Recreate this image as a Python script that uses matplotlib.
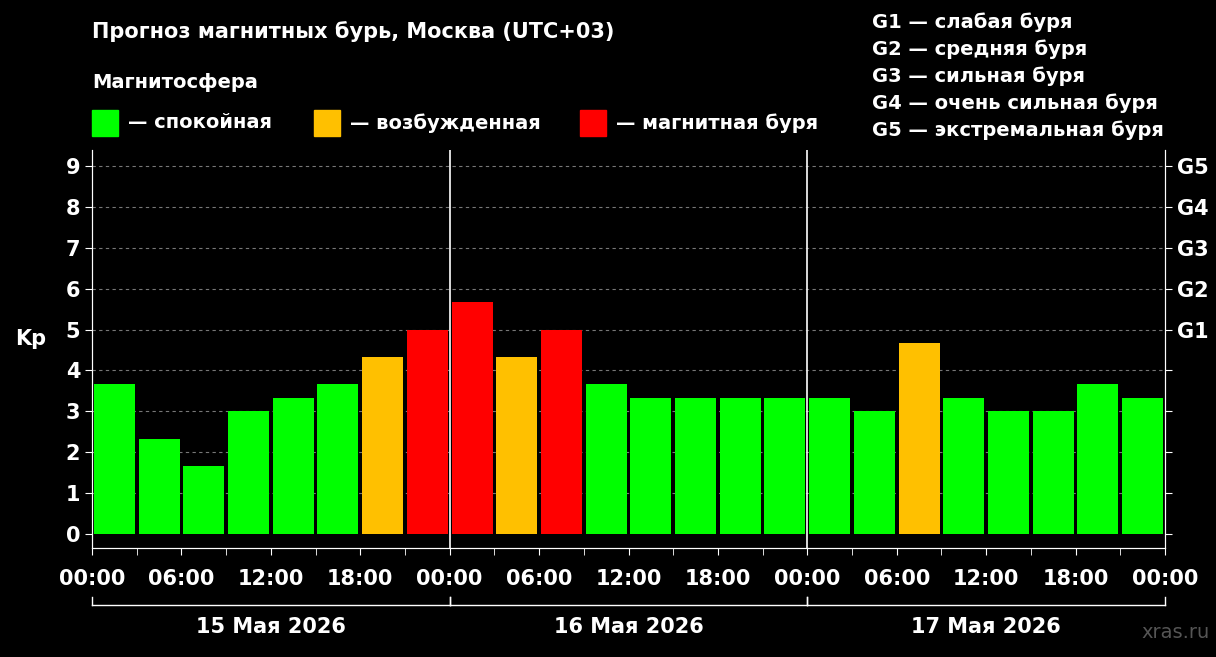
import matplotlib
matplotlib.use("Agg")
import matplotlib.pyplot as plt
from matplotlib.patches import Rectangle

# --- data ---
KP = [3.67, 2.33, 1.67, 3.0, 3.33, 3.67, 4.33, 5.0,
      5.67, 4.33, 5.0, 3.67, 3.33, 3.33, 3.33, 3.33,
      3.33, 3.0, 4.67, 3.33, 3.0, 3.0, 3.67, 3.33]
DAYS = ["15 Мая 2026", "16 Мая 2026", "17 Мая 2026"]
HOUR_LABELS = ["00:00", "06:00", "12:00", "18:00"]
G_LABELS = ["G1", "G2", "G3", "G4", "G5"]
G_TEXT = ["G1 — слабая буря", "G2 — средняя буря", "G3 — сильная буря",
          "G4 — очень сильная буря", "G5 — экстремальная буря"]

GREEN, ORANGE, RED = "#00ff00", "#ffc000", "#ff0000"


def color_for(kp):
    if kp >= 5:
        return RED
    if kp >= 4:
        return ORANGE
    return GREEN


W, H = 1216, 657
fig = plt.figure(figsize=(W / 100, H / 100), dpi=100, facecolor="black")
ax = fig.add_axes([92 / W, 1 - 548 / H, (1165 - 92) / W, (548 - 150) / H], facecolor="black")

x = [1.5 + 3 * i for i in range(len(KP))]
ax.bar(x, KP, width=2.75, color=[color_for(k) for k in KP], zorder=3)

ax.set_xlim(0, 72)
ax.set_ylim(-0.35, 9.4)
for y in range(1, 10):
    ax.axhline(y, color="#777777", lw=0.8, ls=(0, (3, 3)), zorder=1)
for d in (24, 48):
    ax.axvline(d, color="white", lw=1.2, zorder=4)

for s in ax.spines.values():
    s.set_color("white")
ax.spines["top"].set_visible(False)

ax.set_yticks(range(10))
ax.set_yticklabels([str(i) for i in range(10)])
ax.tick_params(axis="y", colors="white", labelsize=15, length=5)
for t in ax.get_yticklabels():
    t.set_fontweight("bold")
ax.set_ylabel("Kp", color="white", fontsize=15, fontweight="bold", rotation=0, labelpad=25)

xt = list(range(0, 73, 6))
ax.set_xticks(xt)
ax.set_xticklabels([HOUR_LABELS[(h // 6) % 4] for h in xt])
ax.set_xticks(range(0, 73, 3), minor=True)
ax.tick_params(axis="x", which="both", colors="white", labelsize=15, length=5, pad=10)
for t in ax.get_xticklabels():
    t.set_fontweight("bold")

ax2 = ax.twinx()
ax2.set_ylim(ax.get_ylim())
ax2.set_yticks(range(10))
ax2.set_yticklabels([""] * 5 + G_LABELS)
ax2.tick_params(axis="y", colors="white", labelsize=15, length=5)
for t in ax2.get_yticklabels():
    t.set_fontweight("bold")
for s in ax2.spines.values():
    s.set_color("white")
ax2.spines["top"].set_visible(False)

# date brackets
trans = ax.get_xaxis_transform()
yb = (548 - 605) / (548 - 150)
for i, day in enumerate(DAYS):
    x0, x1 = 24 * i, 24 * (i + 1)
    ax.plot([x0, x1], [yb, yb], color="white", lw=1, transform=trans, clip_on=False)
    for xx in (x0, x1):
        ax.plot([xx, xx], [yb, yb + 0.02], color="white", lw=1, transform=trans, clip_on=False)
    ax.text((x0 + x1) / 2, yb - 0.03, day, color="white", fontsize=15, fontweight="bold",
            ha="center", va="top", transform=trans)

fig.text(1210 / W, 1 - 632 / H, "xras.ru", color="#555555", fontsize=14, ha="right", va="center")

# header
fig.text(92 / W, 1 - 32 / H, "Прогноз магнитных бурь, Москва (UTC+03)", color="white",
         fontsize=15, fontweight="bold", va="center")
fig.text(92 / W, 1 - 82 / H, "Магнитосфера", color="white", fontsize=14, fontweight="bold", va="center")
for px, col, label in [(92, GREEN, "— спокойная"), (314, ORANGE, "— возбужденная"),
                       (580, RED, "— магнитная буря")]:
    fig.patches.append(Rectangle((px / W, 1 - 136 / H), 26 / W, 26 / H, color=col,
                                 transform=fig.transFigure, figure=fig))
    fig.text((px + 36) / W, 1 - 123 / H, label, color="white", fontsize=14,
             fontweight="bold", va="center")
for i, g in enumerate(G_TEXT):
    fig.text(872 / W, 1 - (22 + 27 * i) / H, g, color="white", fontsize=14,
             fontweight="bold", va="center")

fig.savefig("out.png", dpi=100, facecolor="black")
